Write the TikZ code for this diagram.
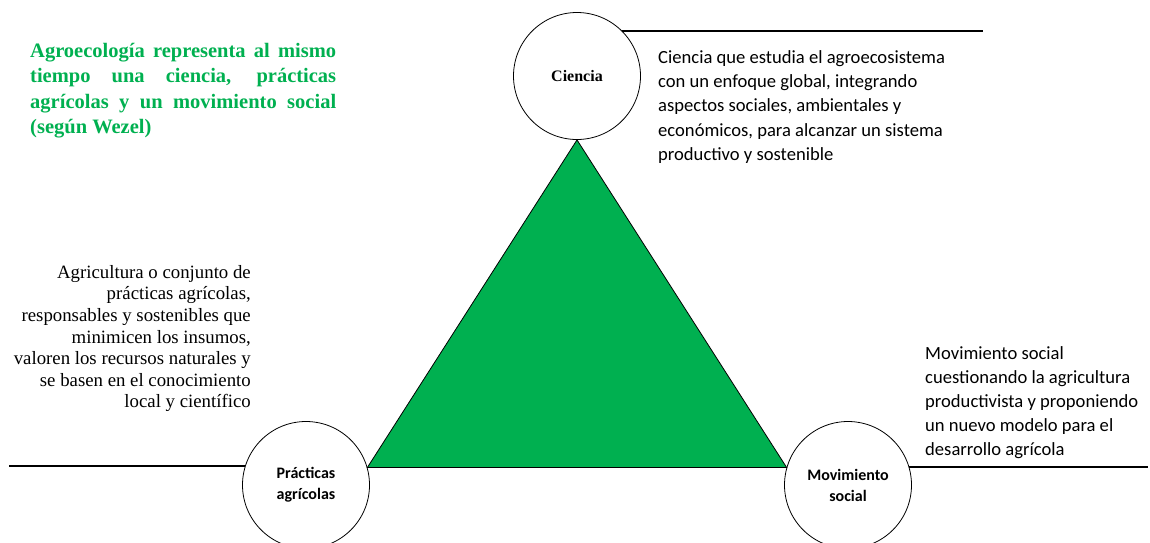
\documentclass[tikz,border=0pt]{standalone}
\usepackage{fontspec}
\setmainfont{Liberation Serif}
\newfontfamily\calibri{Carlito}
\usepackage{tikz}
\definecolor{agrogreen}{RGB}{0,176,80}

\begin{document}
\begin{tikzpicture}[x=1pt, y=-1pt,
	pole/.style={draw, circle, minimum size=127pt, inner sep=0pt, line width=.8pt, align=center},
	rule/.style={line width=2pt},
	note/.style={inner sep=0pt}]
				\useasboundingbox (0,0) rectangle (1150,542);
				\node[pole, font=\bfseries\fontsize{16}{18}\selectfont] (ciencia) at (577,76) {Ciencia};
				\node[pole, font=\calibri\bfseries\fontsize{16}{21}\selectfont] (prac) at (306,485) {Prácticas\\agrícolas};
				\node[pole, font=\calibri\bfseries\fontsize{16}{21}\selectfont] (mov) at (848,485) {Movimiento\\social};
				\draw[line width=.8pt, fill=agrogreen] (ciencia.south) -- (prac.16) -- (mov.164) -- cycle;
				\coordinate (topend) at (983,0);
				\coordinate (leftend) at (9,0);
				\coordinate (rightend) at (1148,0);
				\draw[rule] (ciencia.45.6) -- (ciencia.45.6 -| topend);
				\draw[rule] (prac.163.7) -- (prac.163.7 -| leftend);
				\draw[rule] (mov.16.3) -- (mov.16.3 -| rightend);
				% texts
				\node[note, anchor=north west, text width=306pt, align=justify, text=agrogreen,
					font=\bfseries\fontsize{20.5}{25.4}\selectfont] (title) at (30,43)
					{Agroecología representa al mismo\linebreak tiempo una ciencia, prácticas\linebreak agrícolas y un movimiento social\linebreak (según Wezel)};
				\node[note, anchor=north east, align=right, font=\fontsize{18.8}{21.6}\selectfont] (pracnote) at (251,265)
					{Agricultura o conjunto de\\prácticas agrícolas,\\responsables y sostenibles que\\minimicen los insumos,\\valoren los recursos naturales y\\se basen en el conocimiento\\local y científico};
				\node[note, anchor=north west, align=left, font=\calibri\fontsize{18.6}{24.3}\selectfont] (ciencianote) at (658,50)
					{Ciencia que estudia el agroecosistema\\con un enfoque global, integrando\\aspectos sociales, ambientales y\\económicos, para alcanzar un sistema\\productivo y sostenible};
				\node[note, anchor=north west, align=left, font=\calibri\fontsize{18.6}{24.1}\selectfont] (movnote) at (925,346)
					{Movimiento social\\cuestionando la agricultura\\productivista y proponiendo\\un nuevo modelo para el\\desarrollo agrícola};
			\end{tikzpicture}
\end{document}
